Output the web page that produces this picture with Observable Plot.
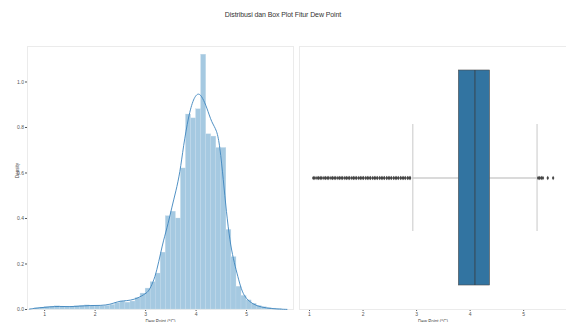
<!DOCTYPE html>
<html>
<head>
<meta charset="utf-8">
<script src="https://cdn.jsdelivr.net/npm/d3@7"></script>
<script src="https://cdn.jsdelivr.net/npm/@observablehq/plot@0.6"></script>
<style>
  body { margin: 0; background: #fff; width: 566px; height: 322px; overflow: hidden; font-family: "Liberation Sans", Arial, sans-serif; }
  #title { height: 44px; text-align: center; font-size: 7px; color: #333; padding-top: 11px; box-sizing: border-box; letter-spacing: -0.1px; }
  #row { display: flex; flex-direction: row; }
</style>
</head>
<body>
<div id="title">Distribusi dan Box Plot Fitur Dew Point</div>
<div id="row"><div id="left"></div><div id="right"></div></div>
<script>
// ---- data ----
const featureName = "Dew Point";
const xLabel = "Dew Point (°C)";
const yLabel = "Density";
const xTicks = [1, 2, 3, 4, 5];
const yTicks = [0.0, 0.2, 0.4, 0.6, 0.8, 1.0];

// histogram bin edges and densities
const binEdges = [0.8,0.9,1.0,1.1,1.2,1.3,1.4,1.5,1.6,1.7,1.8,1.9,2.0,2.1,2.2,2.3,2.4,2.5,2.6,2.7,2.8,2.9,3.0,3.1,3.2,3.3,3.4,3.5,3.6,3.7,3.8,3.9,4.0,4.1,4.2,4.3,4.4,4.5,4.6,4.7,4.8,4.9,5.0,5.1,5.2,5.3,5.4,5.5,5.6,5.7];
const binDensity = [0.005,0.008,0.010,0.012,0.014,0.012,0.010,0.012,0.014,0.016,0.018,0.016,0.015,0.014,0.016,0.020,0.028,0.035,0.030,0.035,0.050,0.070,0.092,0.120,0.158,0.250,0.410,0.430,0.400,0.620,0.857,0.840,0.880,1.120,0.770,0.760,0.710,0.710,0.350,0.230,0.100,0.060,0.040,0.025,0.015,0.010,0.006,0.004,0.002];

// KDE curve points
const kdeX = [0.7,0.9,1.1,1.3,1.5,1.7,1.9,2.1,2.3,2.45,2.55,2.7,2.85,3.0,3.06,3.15,3.22,3.3,3.35,3.45,3.52,3.6,3.68,3.75,3.85,3.95,4.05,4.13,4.21,4.31,4.41,4.47,4.54,4.6,4.67,4.74,4.81,4.88,4.95,5.05,5.2,5.4,5.6,5.8];
const kdeY = [0.002,0.008,0.012,0.014,0.012,0.015,0.018,0.017,0.022,0.035,0.038,0.040,0.050,0.070,0.080,0.120,0.170,0.250,0.300,0.380,0.450,0.520,0.600,0.720,0.850,0.930,0.955,0.930,0.890,0.820,0.790,0.720,0.570,0.430,0.300,0.220,0.160,0.100,0.060,0.035,0.015,0.006,0.002,0.0005];

// box plot summary
const q1 = 3.79, median = 4.09, q3 = 4.37;
const whiskerLow = 2.93, whiskerHigh = 5.25;
const outliers = [1.07,1.10,1.14,1.17,1.20,1.23,1.27,1.30,1.33,1.36,1.40,1.43,1.46,1.49,1.53,1.56,1.59,1.62,1.66,1.69,1.72,1.75,1.79,1.82,1.85,1.88,1.92,1.95,1.98,2.01,2.05,2.08,2.11,2.14,2.18,2.21,2.24,2.27,2.31,2.34,2.37,2.40,2.44,2.47,2.50,2.53,2.57,2.60,2.63,2.66,2.70,2.73,2.76,2.79,2.83,2.86,2.88,5.27,5.30,5.33,5.36,5.45,5.55];

// ---- build rows ----
const histRows = binDensity.map((d, i) => ({x1: binEdges[i], x2: binEdges[i + 1], density: d}));
const kdeRows = kdeX.map((x, i) => ({x, y: kdeY[i]}));
const boxRow = [{feature: featureName, q1, median, q3, lo: whiskerLow, hi: whiskerHigh}];
const outRows = outliers.map(v => ({feature: featureName, v}));

const baseStyle = {fontSize: "5px", fontFamily: "Liberation Sans, Arial, sans-serif", color: "#555", background: "transparent", overflow: "visible"};

const left = Plot.plot({
  width: 296, height: 278,
  marginLeft: 27, marginRight: 3, marginTop: 2, marginBottom: 13,
  style: baseStyle,
  x: {domain: [0.66, 5.93], ticks: xTicks, tickFormat: d3.format("d"), tickSize: 2, tickPadding: 1, label: null, line: true},
  y: {domain: [0, 1.156], ticks: yTicks, tickFormat: d3.format(".1f"), tickSize: 2, tickPadding: 1.5, label: null, line: true},
  marks: [
    Plot.frame({stroke: "#ebebeb", strokeWidth: 1}),
    Plot.rectY(histRows, {x1: "x1", x2: "x2", y: "density", fill: "#a5c9e1", stroke: "#c4dbeb", strokeWidth: 0.3}),
    Plot.line(kdeRows, {x: "x", y: "y", stroke: "#3d85bd", strokeWidth: 0.9, curve: "basis"}),
    Plot.text([xLabel], {text: d => d, frameAnchor: "bottom", lineAnchor: "bottom", dy: 13, fontSize: 4.5, fill: "#444"}),
    Plot.text([yLabel], {text: d => d, frameAnchor: "left", dx: -10, rotate: -90, fontSize: 4.5, fill: "#444"})
  ]
});

const right = Plot.plot({
  width: 270, height: 278,
  marginLeft: 3, marginRight: 0, marginTop: 2, marginBottom: 13,
  style: baseStyle,
  x: {domain: [0.813, 5.80], ticks: xTicks, tickFormat: d3.format("d"), tickSize: 2, tickPadding: 1, label: null, line: true},
  y: {type: "band", domain: [featureName], paddingInner: 0, paddingOuter: 0.11, ticks: [], tickSize: 0, label: null, line: true},
  marks: [
    Plot.frame({stroke: "#ebebeb", strokeWidth: 1}),
    Plot.ruleY(boxRow, {y: "feature", x1: "lo", x2: "q1", stroke: "#b5b5b5", strokeWidth: 1}),
    Plot.ruleY(boxRow, {y: "feature", x1: "q3", x2: "hi", stroke: "#b5b5b5", strokeWidth: 1}),
    Plot.tickX(boxRow, {y: "feature", x: "lo", stroke: "#c8c8c8", strokeWidth: 1, insetTop: 54, insetBottom: 54}),
    Plot.tickX(boxRow, {y: "feature", x: "hi", stroke: "#c8c8c8", strokeWidth: 1, insetTop: 54, insetBottom: 54}),
    Plot.barX(boxRow, {y: "feature", x1: "q1", x2: "q3", fill: "#3274a1", stroke: "#4a4a4a", strokeWidth: 0.6}),
    Plot.tickX(boxRow, {y: "feature", x: "median", stroke: "#3a3a3a", strokeWidth: 0.8}),
    Plot.dot(outRows, {y: "feature", x: "v", symbol: "diamond", r: 1.3, fill: "#444", stroke: "none"}),
    Plot.text([xLabel], {text: d => d, frameAnchor: "bottom", lineAnchor: "bottom", dy: 13, fontSize: 4.5, fill: "#444"})
  ]
});

document.getElementById("left").appendChild(left);
document.getElementById("right").appendChild(right);
</script>
</body>
</html>
